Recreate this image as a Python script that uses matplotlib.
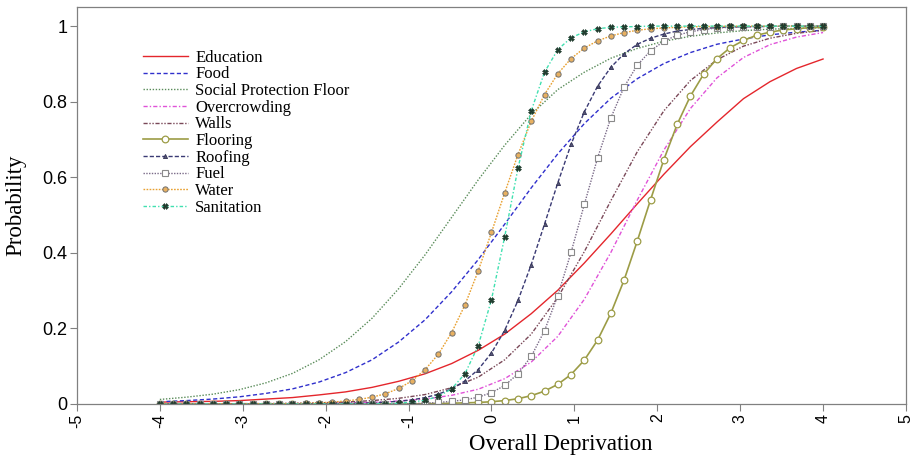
#!/usr/bin/env python3
import matplotlib
matplotlib.use("Agg")
import matplotlib.pyplot as plt

# Overall deprivation grid where the item curves were evaluated
theta = [-4.00, -3.84, -3.68, -3.52, -3.36, -3.20, -3.04, -2.88, -2.72, -2.56,
	-2.40, -2.24, -2.08, -1.92, -1.76, -1.60, -1.44, -1.28, -1.12, -0.96,
	-0.80, -0.64, -0.48, -0.32, -0.16, 0.00, 0.16, 0.32, 0.48, 0.64,
	0.80, 0.96, 1.12, 1.28, 1.44, 1.60, 1.76, 1.92, 2.08, 2.24,
	2.40, 2.56, 2.72, 2.88, 3.04, 3.20, 3.36, 3.52, 3.68, 3.84, 4.00]
# coarser grid for the curves drawn without markers
theta_coarse = [-4.00, -3.68, -3.36, -3.04, -2.72, -2.40, -2.08, -1.76, -1.44, -1.12,
	-0.80, -0.48, -0.16, 0.16, 0.48, 0.80, 1.12, 1.44, 1.76, 2.08,
	2.40, 2.72, 3.04, 3.36, 3.68, 4.00]

education = [0.005, 0.006, 0.007, 0.009, 0.013, 0.017, 0.024, 0.032, 0.044, 0.060,
	0.080, 0.107, 0.142, 0.185, 0.239, 0.301, 0.373, 0.450, 0.530, 0.608,
	0.681, 0.746, 0.808, 0.853, 0.888, 0.913]
food = [0.006, 0.009, 0.013, 0.019, 0.028, 0.040, 0.058, 0.083, 0.117, 0.164,
	0.223, 0.297, 0.382, 0.476, 0.572, 0.662, 0.742, 0.809, 0.861, 0.901,
	0.930, 0.952, 0.966, 0.977, 0.984, 0.989]
social_floor = [0.012, 0.018, 0.026, 0.038, 0.056, 0.081, 0.117, 0.165, 0.227, 0.305,
	0.395, 0.494, 0.593, 0.685, 0.767, 0.832, 0.878, 0.915, 0.941, 0.960,
	0.973, 0.982, 0.988, 0.992, 0.994, 0.996]
overcrowding = [0.000, 0.000, 0.000, 0.000, 0.001, 0.001, 0.001, 0.003, 0.004, 0.008,
	0.013, 0.023, 0.039, 0.067, 0.111, 0.179, 0.277, 0.401, 0.540, 0.672,
	0.782, 0.863, 0.917, 0.951, 0.971, 0.983]
walls = [0.000, 0.000, 0.000, 0.001, 0.001, 0.002, 0.003, 0.005, 0.009, 0.015,
	0.025, 0.043, 0.071, 0.117, 0.185, 0.282, 0.403, 0.538, 0.668, 0.776,
	0.856, 0.911, 0.947, 0.968, 0.981, 0.989]

flooring = [0.000, 0.000, 0.000, 0.000, 0.000, 0.000, 0.000, 0.000, 0.000, 0.000,
	0.000, 0.000, 0.000, 0.000, 0.000, 0.000, 0.000, 0.000, 0.000, 0.000,
	0.001, 0.001, 0.002, 0.003, 0.004, 0.006, 0.009, 0.014, 0.022, 0.034,
	0.052, 0.078, 0.116, 0.169, 0.240, 0.328, 0.432, 0.541, 0.647, 0.740,
	0.815, 0.873, 0.914, 0.943, 0.962, 0.976, 0.984, 0.990, 0.993, 0.996, 0.997]
roofing = [0.000, 0.000, 0.000, 0.000, 0.000, 0.000, 0.000, 0.000, 0.000, 0.000,
	0.000, 0.000, 0.001, 0.001, 0.001, 0.002, 0.003, 0.005, 0.007, 0.011,
	0.017, 0.026, 0.040, 0.061, 0.091, 0.135, 0.195, 0.274, 0.369, 0.476,
	0.585, 0.687, 0.773, 0.841, 0.891, 0.927, 0.952, 0.968, 0.979, 0.987,
	0.991, 0.994, 0.996, 0.998, 0.998, 0.999, 0.999, 1.000, 1.000, 1.000, 1.000]
fuel = [0.000, 0.000, 0.000, 0.000, 0.000, 0.000, 0.000, 0.000, 0.000, 0.000,
	0.000, 0.000, 0.000, 0.000, 0.000, 0.000, 0.000, 0.001, 0.001, 0.001,
	0.002, 0.004, 0.007, 0.011, 0.018, 0.030, 0.049, 0.080, 0.126, 0.194,
	0.287, 0.401, 0.528, 0.651, 0.757, 0.839, 0.897, 0.935, 0.960, 0.976,
	0.985, 0.991, 0.995, 0.997, 0.998, 0.999, 0.999, 1.000, 1.000, 1.000, 1.000]
water = [0.000, 0.000, 0.000, 0.000, 0.000, 0.000, 0.000, 0.000, 0.001, 0.001,
	0.001, 0.002, 0.003, 0.005, 0.008, 0.012, 0.018, 0.027, 0.041, 0.061,
	0.091, 0.132, 0.189, 0.262, 0.352, 0.454, 0.559, 0.660, 0.748, 0.819,
	0.874, 0.914, 0.942, 0.961, 0.974, 0.983, 0.989, 0.993, 0.995, 0.997,
	0.998, 0.999, 0.999, 1.000, 1.000, 1.000, 1.000, 1.000, 1.000, 1.000, 1.000]
sanitation = [0.000, 0.000, 0.000, 0.000, 0.000, 0.000, 0.000, 0.000, 0.000, 0.000,
	0.000, 0.000, 0.000, 0.000, 0.000, 0.000, 0.001, 0.001, 0.002, 0.005,
	0.010, 0.020, 0.040, 0.080, 0.154, 0.276, 0.443, 0.624, 0.776, 0.878,
	0.938, 0.969, 0.985, 0.993, 0.997, 0.998, 0.999, 1.000, 1.000, 1.000,
	1.000, 1.000, 1.000, 1.000, 1.000, 1.000, 1.000, 1.000, 1.000, 1.000, 1.000]

x_ticks = [-5, -4, -3, -2, -1, 0, 1, 2, 3, 4, 5]
y_ticks = [0, 0.2, 0.4, 0.6, 0.8, 1.0]
y_tick_labels = ["0", "0.2", "0.4", "0.6", "0.8", "1"]


def main():
	plt.rcParams["axes.unicode_minus"] = False
	serif = ["Liberation Serif", "DejaVu Serif"]
	sans = ["Liberation Sans", "DejaVu Sans"]

	fig = plt.figure(figsize=(9.14, 4.57), dpi=100)
	ax = fig.add_axes([0.0842, 0.116, 0.907, 0.869])

	lw = 1.0
	# line-only items
	ax.plot(theta_coarse, education, color="#e4262c", lw=lw, label="Education")
	ax.plot(theta_coarse, food, color="#3030cc", lw=lw, dashes=(3, 1.8), label="Food")
	ax.plot(theta_coarse, social_floor, color="#5a8c5a", lw=lw, dashes=(1, 1.2),
		label="Social Protection Floor")
	ax.plot(theta_coarse, overcrowding, color="#e052d8", lw=lw, dashes=(3, 1.5, 1, 1.5),
		label="Overcrowding")
	ax.plot(theta_coarse, walls, color="#7a4858", lw=lw, dashes=(3, 1.2, 1, 1.2, 1, 1.2),
		label="Walls")

	# items with markers
	ax.plot(theta, flooring, color="#9c9c46", lw=1.2, marker="o", ms=4.8,
		mfc="white", mec="#9c9c46", mew=0.9, label="Flooring")
	ax.plot(theta, roofing, color="#3a3a74", lw=lw, dashes=(3, 1.5), marker="^", ms=3,
		mfc="#555577", mec="#333355", mew=0.6, label="Roofing")
	ax.plot(theta, fuel, color="#7a6a88", lw=lw, dashes=(1, 1), marker="s", ms=4.8,
		mfc="white", mec="#8a8a8a", mew=0.8, label="Fuel")
	ax.plot(theta, water, color="#e8a030", lw=lw, dashes=(1.2, 1), marker="o", ms=3.8,
		mfc="#e8b060", mec="#707070", mew=0.7, label="Water")
	ax.plot(theta, sanitation, color="#40e0b0", lw=lw, dashes=(2.5, 1.5, 1, 1.5), marker="X",
		ms=4, mfc="#1e3a2c", mec="#1e3a2c", mew=0.4, label="Sanitation")

	ax.set_xlim(-5, 5)
	ax.set_ylim(0, 1.051)
	ax.set_xticks(x_ticks)
	ax.set_xticklabels([str(v) for v in x_ticks], rotation=90, family=sans, fontsize=11.5)
	ax.set_yticks(y_ticks)
	ax.set_yticklabels(y_tick_labels, family=sans, fontsize=13)
	ax.tick_params(axis="both", direction="out", length=5, width=0.8, color="#808080", pad=2)

	for sp in ax.spines.values():
		sp.set_color("#808080")
		sp.set_linewidth(0.9)

	ax.set_xlabel("Overall Deprivation", family=serif, fontsize=16.5)
	ax.xaxis.set_label_coords(0.583, -0.075)
	ax.set_ylabel("Probability", family=serif, fontsize=16.5)
	ax.yaxis.set_label_coords(-0.061, 0.5)

	ax.legend(loc="upper left", bbox_to_anchor=(0.156, 0.891), bbox_transform=fig.transFigure,
		frameon=False, prop={"family": serif, "size": 12}, handlelength=2.7,
		handletextpad=0.45, labelspacing=0.04, borderpad=0, borderaxespad=0)

	fig.savefig("out.png", dpi=100)
	plt.close(fig)


if __name__ == "__main__":
	main()
